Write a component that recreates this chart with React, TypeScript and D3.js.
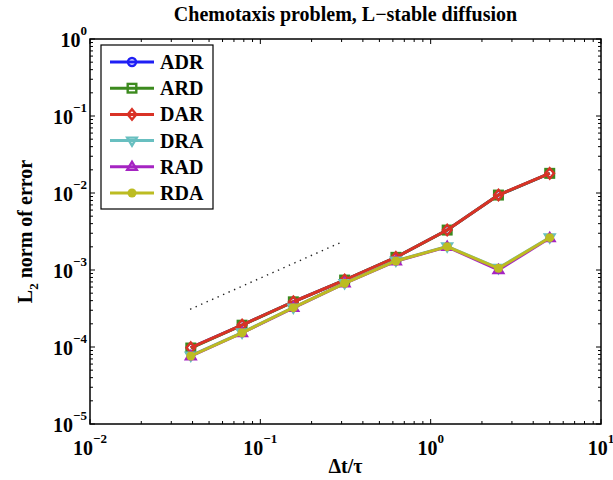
import React from "react";
import * as d3 from "d3";

// step sizes dt/tau
const steps = [0.0390625, 0.078125, 0.15625, 0.3125, 0.625, 1.25, 2.5, 5];

// L2 error for each splitting order
const adr = [9.8e-5, 1.93e-4, 3.87e-4, 7.4e-4, 1.46e-3, 3.31e-3, 9.4e-3, 1.8e-2];
const ard = [9.7e-5, 1.92e-4, 3.86e-4, 7.4e-4, 1.46e-3, 3.3e-3, 9.4e-3, 1.8e-2];
const dar = [9.8e-5, 1.93e-4, 3.87e-4, 7.41e-4, 1.46e-3, 3.31e-3, 9.42e-3, 1.8e-2];
const dra = [7.7e-5, 1.54e-4, 3.25e-4, 6.75e-4, 1.32e-3, 2.02e-3, 1.06e-3, 2.64e-3];
const rad = [7.6e-5, 1.52e-4, 3.23e-4, 6.7e-4, 1.3e-3, 2.0e-3, 1.0e-3, 2.6e-3];
const rda = [7.64e-5, 1.53e-4, 3.24e-4, 6.72e-4, 1.31e-3, 2.01e-3, 1.05e-3, 2.63e-3];

// first-order reference slope (dotted)
const refX = [0.0387, 0.294];
const refY = [3.09e-4, 2.26e-3];

const xDecades = [-2, -1, 0, 1];
const yDecades = [-5, -4, -3, -2, -1, 0];

const series = [
  { name: "ADR", values: adr, color: "#1f1ff5", marker: "circle" },
  { name: "ARD", values: ard, color: "#3c8a1e", marker: "square" },
  { name: "DAR", values: dar, color: "#d93226", marker: "diamond" },
  { name: "DRA", values: dra, color: "#68bfc0", marker: "triDown" },
  { name: "RAD", values: rad, color: "#a524c2", marker: "triUp" },
  { name: "RDA", values: rda, color: "#bcbc22", marker: "dot" },
];

const W = 613, H = 480;
const L = 90, R = 601, T = 39, B = 424;
const font = "'Liberation Serif', 'Times New Roman', serif";

const Marker = ({ kind, x, y, color }: { kind: string; x: number; y: number; color: string }) => {
  const sw = 2.4;
  if (kind === "circle") return <circle cx={x} cy={y} r={4} fill="none" stroke={color} strokeWidth={sw} />;
  if (kind === "square") return <rect x={x - 4.3} y={y - 4.3} width={8.6} height={8.6} fill="none" stroke={color} strokeWidth={sw} />;
  if (kind === "diamond")
    return <path d={`M${x},${y - 5.2}L${x + 4.3},${y}L${x},${y + 5.2}L${x - 4.3},${y}Z`} fill="none" stroke={color} strokeWidth={sw} />;
  if (kind === "triDown")
    return <path d={`M${x - 4.8},${y - 3}L${x + 4.8},${y - 3}L${x},${y + 5}Z`} fill="none" stroke={color} strokeWidth={sw} />;
  if (kind === "triUp")
    return <path d={`M${x - 4.8},${y + 3}L${x + 4.8},${y + 3}L${x},${y - 5}Z`} fill="none" stroke={color} strokeWidth={sw} />;
  return <circle cx={x} cy={y} r={4.5} fill={color} />;
};

export default function App() {
  const x = d3.scaleLog().domain([0.01, 10]).range([L, R]);
  const y = d3.scaleLog().domain([1e-5, 1]).range([B, T]);
  const line = d3.line<number>().x((_, i) => x(steps[i])).y(d => y(d));

  const xMinor: number[] = [];
  xDecades.slice(0, -1).forEach(p => d3.range(2, 10).forEach(m => xMinor.push(m * 10 ** p)));
  const yMinor: number[] = [];
  yDecades.slice(0, -1).forEach(p => d3.range(2, 10).forEach(m => yMinor.push(m * 10 ** p)));

  return (
    <svg width={W} height={H} style={{ position: "absolute", left: 0, top: 0 }} fontFamily={font} fontWeight="bold">
      <rect width={W} height={H} fill="white" />
      <text x={(L + R) / 2} y={21} textAnchor="middle" fontSize={20}>
        Chemotaxis problem, L−stable diffusion
      </text>

      {/* ticks */}
      <g stroke="black" strokeWidth={1}>
        {xDecades.map(p => {
          const px = x(10 ** p);
          return (
            <g key={"xm" + p}>
              <line x1={px} x2={px} y1={B} y2={B - 5} />
              <line x1={px} x2={px} y1={T} y2={T + 5} />
            </g>
          );
        })}
        {xMinor.map(v => (
          <g key={"xn" + v}>
            <line x1={x(v)} x2={x(v)} y1={B} y2={B - 3} />
            <line x1={x(v)} x2={x(v)} y1={T} y2={T + 3} />
          </g>
        ))}
        {yDecades.map(p => {
          const py = y(10 ** p);
          return (
            <g key={"ym" + p}>
              <line x1={L} x2={L + 5} y1={py} y2={py} />
              <line x1={R} x2={R - 5} y1={py} y2={py} />
            </g>
          );
        })}
        {yMinor.map(v => (
          <g key={"yn" + v}>
            <line x1={L} x2={L + 3} y1={y(v)} y2={y(v)} />
            <line x1={R} x2={R - 3} y1={y(v)} y2={y(v)} />
          </g>
        ))}
      </g>

      {/* tick labels */}
      {xDecades.map(p => (
        <text key={"xl" + p} x={x(10 ** p)} y={455} textAnchor="middle" fontSize={20}>
          10<tspan dy={-12} fontSize={13}>{p < 0 ? "−" + -p : p}</tspan>
        </text>
      ))}
      {yDecades.map(p => (
        <text key={"yl" + p} x={87} y={y(10 ** p) + 8} textAnchor="end" fontSize={20}>
          10<tspan dy={-12} fontSize={13}>{p < 0 ? "−" + -p : p}</tspan>
        </text>
      ))}

      <text x={(L + R) / 2} y={473} textAnchor="middle" fontSize={20}>Δt/τ</text>
      <text transform={`translate(32,${(T + B) / 2}) rotate(-90)`} textAnchor="middle" fontSize={20}>
        L<tspan dy={6} fontSize={13}>2</tspan><tspan dy={-6}> norm of error</tspan>
      </text>

      {/* reference slope */}
      <path
        d={`M${x(refX[0])},${y(refY[0])}L${x(refX[1])},${y(refY[1])}`}
        stroke="#222"
        strokeWidth={1.4}
        strokeDasharray="1.4,4.6"
        fill="none"
      />

      {/* data */}
      {series.map(s => (
        <g key={s.name}>
          <path d={line(s.values) ?? ""} fill="none" stroke={s.color} strokeWidth={3} strokeLinejoin="round" />
          {s.values.map((v, i) => (
            <Marker key={i} kind={s.marker} x={x(steps[i])} y={y(v)} color={s.color} />
          ))}
        </g>
      ))}

      {/* axes box */}
      <rect x={L} y={T} width={R - L} height={B - T} fill="none" stroke="black" strokeWidth={1.5} />

      {/* legend */}
      <rect x={101} y={45} width={112} height={164} fill="white" stroke="black" strokeWidth={1.2} />
      {series.map((s, i) => {
        const ly = 62 + i * 26.2;
        return (
          <g key={"lg" + s.name}>
            <line x1={110} x2={154} y1={ly} y2={ly} stroke={s.color} strokeWidth={3} />
            <Marker kind={s.marker} x={132} y={ly} color={s.color} />
            <text x={160} y={ly + 7} fontSize={20}>{s.name}</text>
          </g>
        );
      })}
    </svg>
  );
}
